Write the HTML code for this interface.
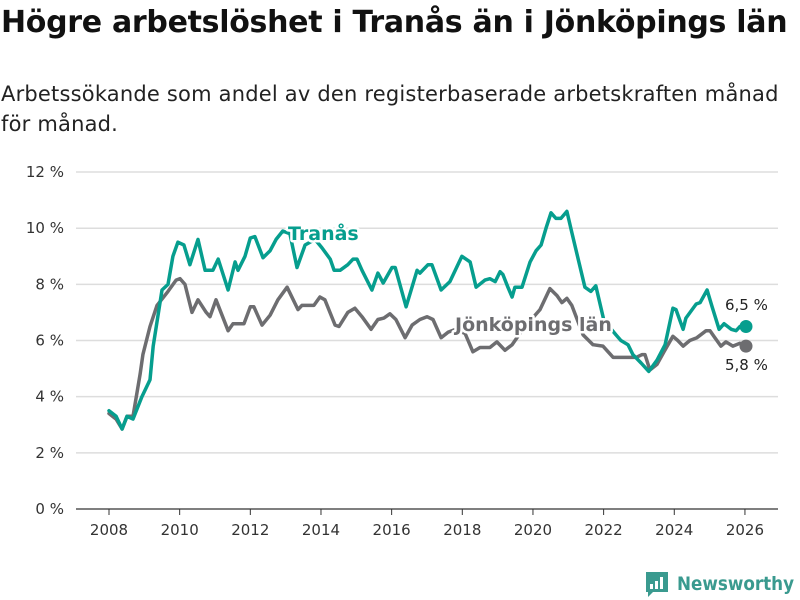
<!DOCTYPE html>
<html><head><meta charset="utf-8"><style>
body{margin:0;background:#fff;font-family:"DejaVu Sans","Liberation Sans",sans-serif;}
#wrap{position:relative;width:800px;height:600px;overflow:hidden;}
h1{position:absolute;left:1px;top:5px;margin:0;font-size:30px;font-weight:bold;color:#111;letter-spacing:-0.3px;white-space:nowrap}
p{position:absolute;left:1px;top:79px;margin:0;font-size:21px;letter-spacing:0.2px;line-height:30px;color:#222;white-space:nowrap}
svg{position:absolute;left:0;top:0}
</style></head><body><div id="wrap">
<h1>Högre arbetslöshet i Tranås än i Jönköpings län</h1>
<p>Arbetssökande som andel av den registerbaserade arbetskraften månad<br>för månad.</p>
<svg id="s" width="800" height="600"></svg>
</div>
<script>
const yTicks=[0,2,4,6,8,10,12];
const yTickLabels=["0 %","2 %","4 %","6 %","8 %","10 %","12 %"];
const xTicks=[2008,2010,2012,2014,2016,2018,2020,2022,2024,2026];
const tranasYears=[2008.00,2008.20,2008.37,2008.51,2008.68,2008.93,2009.16,2009.25,2009.50,2009.67,2009.81,2009.95,2010.12,2010.29,2010.52,2010.72,2010.94,2011.09,2011.37,2011.57,2011.65,2011.85,2012.00,2012.13,2012.36,2012.56,2012.73,2012.92,2013.12,2013.32,2013.55,2013.83,2014.03,2014.26,2014.37,2014.54,2014.76,2014.91,2015.02,2015.16,2015.44,2015.61,2015.76,2016.01,2016.10,2016.41,2016.72,2016.80,2017.03,2017.14,2017.40,2017.65,2017.99,2018.22,2018.39,2018.64,2018.78,2018.93,2019.07,2019.15,2019.29,2019.41,2019.49,2019.69,2019.92,2020.09,2020.23,2020.37,2020.51,2020.65,2020.79,2020.96,2021.10,2021.47,2021.64,2021.78,2022.04,2022.12,2022.35,2022.49,2022.69,2022.83,2023.06,2023.28,2023.51,2023.74,2023.96,2024.05,2024.25,2024.33,2024.62,2024.73,2024.93,2025.07,2025.27,2025.41,2025.61,2025.75,2025.86,2026.03];
const tranasValues=[3.5,3.3,2.85,3.3,3.2,4.0,4.6,5.8,7.8,8.0,9.0,9.5,9.4,8.7,9.6,8.5,8.5,8.9,7.8,8.8,8.5,9.0,9.65,9.7,8.95,9.2,9.6,9.9,9.8,8.6,9.4,9.6,9.3,8.9,8.5,8.5,8.7,8.9,8.9,8.5,7.8,8.4,8.05,8.6,8.6,7.2,8.5,8.4,8.7,8.7,7.8,8.1,9.0,8.8,7.9,8.15,8.2,8.1,8.45,8.35,7.9,7.55,7.9,7.9,8.8,9.2,9.4,10.0,10.55,10.35,10.35,10.6,9.85,7.9,7.75,7.95,6.55,6.55,6.2,6.0,5.85,5.5,5.2,4.9,5.3,5.85,7.15,7.1,6.4,6.8,7.3,7.35,7.8,7.2,6.4,6.6,6.4,6.35,6.5,6.5];
const jkpYears=[2008.00,2008.20,2008.37,2008.51,2008.68,2008.88,2008.96,2009.16,2009.36,2009.67,2009.90,2010.01,2010.15,2010.35,2010.52,2010.75,2010.86,2011.03,2011.37,2011.51,2011.82,2012.00,2012.10,2012.33,2012.56,2012.78,2013.04,2013.35,2013.46,2013.80,2013.97,2014.11,2014.40,2014.51,2014.76,2014.96,2015.16,2015.42,2015.61,2015.78,2015.95,2016.12,2016.38,2016.58,2016.80,2017.00,2017.17,2017.40,2017.60,2017.82,2018.08,2018.30,2018.50,2018.78,2018.98,2019.21,2019.41,2019.63,2019.92,2020.20,2020.48,2020.68,2020.82,2020.96,2021.10,2021.42,2021.70,2021.98,2022.27,2022.52,2022.92,2023.09,2023.17,2023.31,2023.51,2023.71,2023.96,2024.10,2024.25,2024.44,2024.64,2024.90,2025.01,2025.15,2025.32,2025.46,2025.66,2025.86,2026.03];
const jkpValues=[3.4,3.2,2.85,3.3,3.3,4.8,5.5,6.5,7.25,7.75,8.15,8.2,8.0,7.0,7.45,7.0,6.85,7.45,6.35,6.6,6.6,7.2,7.2,6.55,6.9,7.45,7.9,7.1,7.25,7.25,7.55,7.45,6.55,6.5,7.0,7.15,6.85,6.4,6.75,6.8,6.95,6.75,6.1,6.55,6.75,6.85,6.75,6.1,6.3,6.4,6.25,5.6,5.75,5.75,5.95,5.65,5.85,6.25,6.7,7.1,7.85,7.6,7.35,7.5,7.25,6.2,5.85,5.8,5.4,5.4,5.4,5.5,5.5,4.95,5.15,5.6,6.15,6.0,5.8,6.0,6.1,6.35,6.35,6.1,5.8,5.95,5.8,5.9,5.8];
const NS="http://www.w3.org/2000/svg";
const s=document.getElementById('s');
const X=y=>109+(y-2008)*35.33;
const Y=v=>509-v*28.08;
function el(t,a,p){const e=document.createElementNS(NS,t);for(const k in a)e.setAttribute(k,a[k]);(p||s).appendChild(e);return e;}
yTicks.forEach((v,i)=>{
 const g=el('line',{x1:76,x2:778,y1:Y(v),y2:Y(v),stroke:v===0?'#333':'#ddd','stroke-width':v===0?1.2:1.5});
 
 
 const t=el('text',{x:64,y:Y(v)+5,'text-anchor':'end','font-size':15,fill:'#333'});t.textContent=yTickLabels[i];
 
 
});
xTicks.forEach(v=>{
 const l=el('line',{x1:X(v),x2:X(v),y1:509,y2:515,stroke:'#333','stroke-width':1});
 
 
 const t=el('text',{x:X(v),y:535,'text-anchor':'middle','font-size':15,fill:'#333'});t.textContent=v;
 
 
});
function line(ys,vs,col,name){
 const d=ys.map((y,i)=>(i?'L':'M')+X(y).toFixed(1)+','+Y(vs[i]).toFixed(1)).join('');
 const p=el('path',{d:d,fill:'none',stroke:col,'stroke-width':3.5,'stroke-linejoin':'round','stroke-linecap':'round'});
 
 
 const n=ys.length-1;
 const c=el('circle',{cx:X(ys[n]),cy:Y(vs[n]),r:6.5,fill:col});
 
 
}
line(jkpYears,jkpValues,'#6d6d70','jonkoping');
line(tranasYears,tranasValues,'#069e8e','tranas');
function lab(x,y,txt,col,name,size,bold){
 const t=el('text',{x:x,y:y,'font-size':size,fill:col,'font-weight':bold?'bold':'normal',stroke:'#fff','stroke-width':bold?5:4,'paint-order':'stroke','stroke-linejoin':'round'});t.textContent=txt;
 
 
}
lab(288,240,'Tranås','#069e8e','tranas-label',19,true);
lab(455,331,'Jönköpings län','#6d6d70','jonkoping-label',19,true);
lab(725,310,'6,5 %','#222','tranas-value-label',15,false);
lab(725,370,'5,8 %','#222','jonkoping-value-label',15,false);
const lg=el('g',{});


el('path',{d:'M646,572 h22 v20 h-15 l-5,5 v-5 h-2 z',fill:'#3a9a8f'},lg);
el('rect',{x:650,y:584,width:3,height:5,fill:'#fff'},lg);
el('rect',{x:655,y:581,width:3,height:8,fill:'#fff'},lg);
el('rect',{x:660,y:577,width:3,height:12,fill:'#fff'},lg);
const lt=el('text',{x:677,y:590,'font-size':19,'font-weight':'bold',fill:'#3a9a8f','textLength':117,'lengthAdjust':'spacingAndGlyphs'},lg);lt.textContent='Newsworthy';
</script></body></html>
